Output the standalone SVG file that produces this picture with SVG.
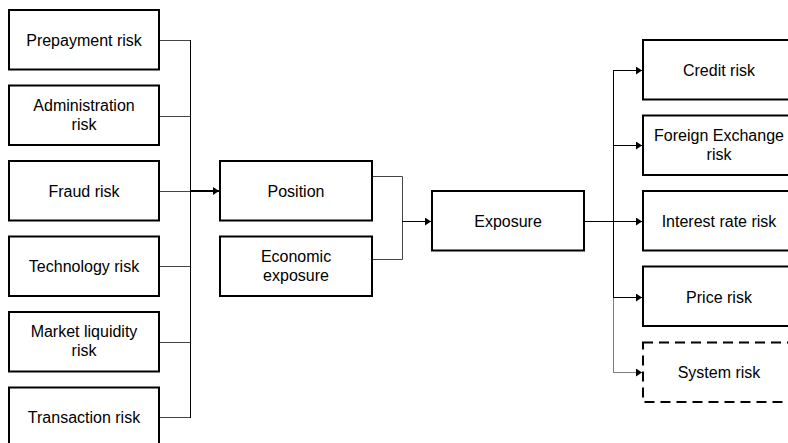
<svg xmlns="http://www.w3.org/2000/svg" width="788" height="443" viewBox="0 0 788 443">
<style>
.box{fill:#fff;stroke:#000;stroke-width:2}
.dash{fill:#fff;stroke:#000;stroke-width:2;stroke-dasharray:10 6}
text{font-family:"Liberation Sans",Arial,sans-serif;font-size:16px;fill:#000;text-anchor:middle}
.ln{fill:none;stroke:#444;stroke-width:1}
.bus{fill:none;stroke:#000;stroke-width:1}
</style>
<defs>
<marker id="ah" markerWidth="6" markerHeight="8" refX="6" refY="4" orient="auto" markerUnits="userSpaceOnUse">
<path d="M0,0 L6,4 L0,8 Z" fill="#000"/>
</marker>
</defs>
<rect width="788" height="443" fill="#fff"/>
<g id="connectors">
<path class="ln" d="M159,40.5 H190.5 M159,116.5 H190.5 M159,191.5 H190.5 M159,266.5 H190.5 M159,342.5 H190.5 M159,417.5 H190.5"/>
<path class="bus" d="M190.5,40 V418"/>
<path d="M190,191 H219" fill="none" stroke="#000" stroke-width="2" marker-end="url(#ah)"/>
<path class="ln" d="M372,176.5 H402.5 V259.5 H372"/>
<path class="bus" d="M402,221.5 H431" marker-end="url(#ah)"/>
<path class="bus" d="M584,221.5 H642" marker-end="url(#ah)"/>
<path class="bus" d="M613.5,70 V297.5"/>
<path class="bus" d="M613,70.5 H642" marker-end="url(#ah)"/>
<path class="bus" d="M613,145.5 H642" marker-end="url(#ah)"/>
<path class="bus" d="M613,297.5 H642" marker-end="url(#ah)"/>
<path d="M613.5,297.5 V372.5 H642" fill="none" stroke="#000" stroke-width="1" stroke-dasharray="1 1" marker-end="url(#ah)"/>
</g>
<g id="prepayment"><rect class="box" x="9" y="10" width="150" height="59.5"/><text x="84" y="45.5">Prepayment risk</text></g>
<g id="administration"><rect class="box" x="9" y="85.5" width="150" height="59.5"/><text x="84" y="110.5">Administration</text><text x="84" y="129.5">risk</text></g>
<g id="fraud"><rect class="box" x="9" y="161" width="150" height="59.5"/><text x="84" y="196.5">Fraud risk</text></g>
<g id="technology"><rect class="box" x="9" y="236.5" width="150" height="59.5"/><text x="84" y="272">Technology risk</text></g>
<g id="market-liquidity"><rect class="box" x="9" y="312" width="150" height="59.5"/><text x="84" y="337">Market liquidity</text><text x="84" y="356">risk</text></g>
<g id="transaction"><rect class="box" x="9" y="387.5" width="150" height="59.5"/><text x="84" y="423">Transaction risk</text></g>
<g id="position"><rect class="box" x="220" y="161" width="152" height="59.5"/><text x="296" y="196.5">Position</text></g>
<g id="economic-exposure"><rect class="box" x="220" y="236.5" width="152" height="59.5"/><text x="296" y="262">Economic</text><text x="296" y="281">exposure</text></g>
<g id="exposure"><rect class="box" x="432" y="191" width="152" height="59.5"/><text x="508" y="226.5">Exposure</text></g>
<g id="credit"><rect class="box" x="643" y="40" width="152" height="59.5"/><text x="719" y="75.5">Credit risk</text></g>
<g id="foreign-exchange"><rect class="box" x="643" y="115.5" width="152" height="59.5"/><text x="719" y="140.5">Foreign Exchange</text><text x="719" y="159.5">risk</text></g>
<g id="interest-rate"><rect class="box" x="643" y="191" width="152" height="59.5"/><text x="719" y="226.5">Interest rate risk</text></g>
<g id="price"><rect class="box" x="643" y="266.5" width="152" height="59.5"/><text x="719" y="302.5">Price risk</text></g>
<g id="system"><rect class="dash" x="643" y="342.5" width="152" height="59.5"/><text x="719" y="378">System risk</text></g>
</svg>
